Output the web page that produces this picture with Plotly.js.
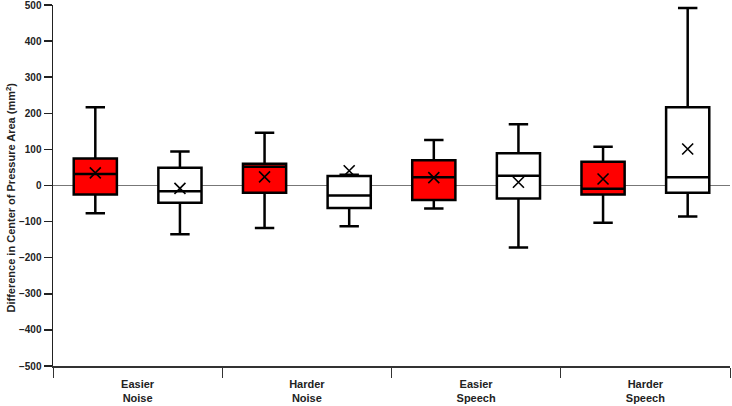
<!DOCTYPE html>
<html>
<head>
<meta charset="utf-8">
<script src="https://cdn.plot.ly/plotly-3.0.1.min.js"></script>
<style>
  html, body { margin: 0; padding: 0; background: #fff; }
  #chart { width: 732px; height: 406px; }
</style>
</head>
<body>
<div id="chart"></div>
<script>
// conditions on the x axis
var categories = ["Easier<br>Noise", "Harder<br>Noise", "Easier<br>Speech", "Harder<br>Speech"]

// red boxes (first of each pair)
var redQ1 = [-25, -20, -40, -25]
var redMedian = [32, 52, 23, -9]
var redQ3 = [75, 60, 70, 66]
var redLow = [-77, -118, -64, -103]
var redHigh = [217, 146, 126, 107]
var redMean = [35, 24, 22, 18]

// white boxes (second of each pair)
var whiteQ1 = [-48, -62, -36, -20]
var whiteMedian = [-16, -28, 27, 23]
var whiteQ3 = [49, 26, 89, 217]
var whiteLow = [-135, -113, -172, -86]
var whiteHigh = [94, 30, 170, 492]
var whiteMean = [-8, 41, 9, 101]

var yTicks = [-500, -400, -300, -200, -100, 0, 100, 200, 300, 400, 500]
var yTitle = 'Difference in Center of Pressure Area (mm<sup>2</sup>)'

function boxTrace(q1, med, q3, lo, hi, fill, grp) {
  return {
    type: 'box',
    x: categories,
    q1: q1,
    median: med,
    q3: q3,
    lowerfence: lo,
    upperfence: hi,
    fillcolor: fill,
    line: { color: '#000', width: 2.5 },
    whiskerwidth: 0.45,
    boxpoints: false,
    offsetgroup: grp,
    alignmentgroup: 'all',
    hoverinfo: 'skip',
    showlegend: false
  }
}

function meanTrace(mean, grp) {
  return {
    type: 'scatter',
    mode: 'markers',
    x: categories,
    y: mean,
    marker: { symbol: 'x-thin-open', size: 11, color: '#000', line: { color: '#000', width: 1.6 } },
    offsetgroup: grp,
    alignmentgroup: 'all',
    showlegend: false
  }
}

var data = [
  boxTrace(redQ1, redMedian, redQ3, redLow, redHigh, '#ff0000', 'a'),
  boxTrace(whiteQ1, whiteMedian, whiteQ3, whiteLow, whiteHigh, '#ffffff', 'b'),
  meanTrace(redMean, 'a'),
  meanTrace(whiteMean, 'b')
]

var layout = {
  width: 732,
  height: 406,
  margin: { l: 53, r: 2, t: 5, b: 40 },
  paper_bgcolor: '#fff',
  plot_bgcolor: '#fff',
  boxmode: 'group',
  boxgap: 0,
  boxgroupgap: 0.49,
  scattermode: 'group',
  scattergap: 0,
  font: { family: 'Liberation Sans, Arial, sans-serif', color: '#222' },
  xaxis: {
    type: 'category',
    categoryarray: categories,
    range: [-0.5, 3.5],
    tickson: 'boundaries',
    ticks: 'outside',
    ticklen: 10,
    tickwidth: 1,
    tickcolor: '#333',
    showline: true,
    linecolor: '#333',
    linewidth: 1.5,
    showgrid: false,
    zeroline: false,
    ticklabelstandoff: 7,
    tickfont: { size: 11, weight: 'bold', color: '#222' }
  },
  xaxis2: {
    type: 'category',
    categoryarray: categories,
    overlaying: 'x',
    matches: 'x',
    tickson: 'boundaries',
    ticks: 'inside',
    ticklen: 9,
    tickwidth: 1,
    tickcolor: '#333',
    showticklabels: false,
    showgrid: false,
    showline: false,
    zeroline: false
  },
  yaxis: {
    range: [-500, 500],
    tickvals: yTicks,
    ticks: 'outside',
    ticklen: 8,
    tickwidth: 1.5,
    tickcolor: '#222',
    showline: true,
    linecolor: '#222',
    linewidth: 1.5,
    showgrid: false,
    zeroline: true,
    zerolinecolor: '#777',
    zerolinewidth: 1,
    ticklabeloverflow: 'allow',
    tickfont: { size: 10, weight: 'bold', color: '#222' }
  },
  annotations: [{
    text: yTitle,
    textangle: -90,
    xref: 'paper', yref: 'paper',
    x: 0, y: 0.5,
    xanchor: 'center', yanchor: 'middle',
    xshift: -43, yshift: -12,
    showarrow: false,
    font: { size: 11, weight: 'bold', color: '#222' }
  }]
}

Plotly.newPlot('chart', data, layout, { displayModeBar: false, staticPlot: true })
</script>
</body>
</html>
